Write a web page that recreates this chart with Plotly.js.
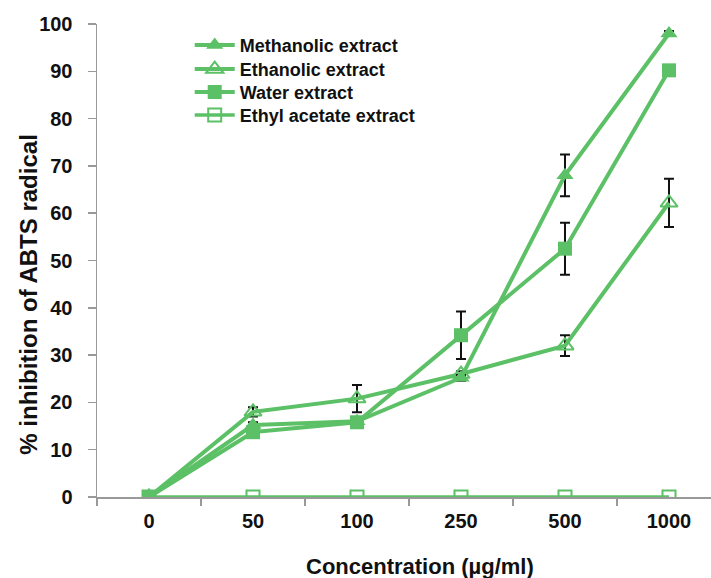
<!DOCTYPE html>
<html>
<head>
<meta charset="utf-8">
<script src="https://cdn.plot.ly/plotly-3.0.1.min.js"></script>
<style>html,body{margin:0;padding:0;background:#fff;}#chart{width:711px;height:578px;}</style>
</head>
<body>
<div id="chart"></div>
<script>
const categories = ["0", "50", "100", "250", "500", "1000"];
const methanolic = [0, 15.2, 16.0, 25.2, 68.0, 98.0];
const methanolicErr = [0, 0.6, 0.5, 0.6, 4.4, 0.5];
const ethanolic = [0, 18.0, 20.8, 26.0, 32.0, 62.2];
const ethanolicErr = [0, 1.0, 2.9, 0.6, 2.2, 5.1];
const water = [0, 13.7, 15.8, 34.2, 52.5, 90.2];
const waterErr = [0, 0.5, 0.5, 5.0, 5.5, 0.5];
const ethylAcetate = [0, 0, 0, 0, 0, 0];
const seriesNames = ["Methanolic extract", "Ethanolic extract", "Water extract", "Ethyl acetate extract"];
const xTitle = "Concentration (µg/ml)";
const yTitle = "% inhibition of ABTS radical";

const green = "rgb(92,192,102)";
const FONT = "Liberation Sans, Arial, sans-serif";
const errStyle = (arr) => ({type: "data", array: arr, visible: true, color: "#111", thickness: 2, width: 5});

const traces = [
  {x: categories, y: ethylAcetate, name: seriesNames[3], mode: "lines+markers", legend: "legend4",
   line: {color: green, width: 3.5},
   marker: {symbol: "square-open", size: 13, color: green, line: {width: 2, color: green}}},
  {x: categories, y: ethanolic, name: seriesNames[1], mode: "lines+markers", legend: "legend2",
   error_y: errStyle(ethanolicErr),
   line: {color: green, width: 4},
   marker: {symbol: "triangle-up-open", size: 15, color: green, line: {width: 2, color: green}}},
  {x: categories, y: methanolic, name: seriesNames[0], mode: "lines+markers", legend: "legend",
   error_y: errStyle(methanolicErr),
   line: {color: green, width: 4},
   marker: {symbol: "triangle-up", size: 15, color: green}},
  {x: categories, y: water, name: seriesNames[2], mode: "lines+markers", legend: "legend3",
   error_y: errStyle(waterErr),
   line: {color: green, width: 4},
   marker: {symbol: "square", size: 14, color: green}}
];

const legendBase = (y) => ({x: 0.151, y: y, xanchor: "left", yanchor: "top", bgcolor: "rgba(0,0,0,0)",
  font: {size: 18, family: FONT, weight: "bold", color: "#111"}, itemwidth: 40});

const layout = {
  width: 711, height: 578,
  margin: {l: 97, r: 0, t: 24, b: 81},
  paper_bgcolor: "#fff", plot_bgcolor: "#fff",
  font: {family: FONT, color: "#111"},
  showlegend: true,
  legend: legendBase(0.994),
  legend2: legendBase(0.9433),
  legend3: legendBase(0.8947),
  legend4: legendBase(0.8461),
  xaxis: {type: "category", range: [-0.5, 5.404], showline: true, linecolor: "#999", linewidth: 1.5,
          ticks: "outside", tickson: "boundaries", ticklen: 7, tickcolor: "#999", tickwidth: 1.5,
          showgrid: false, zeroline: false, ticklabelstandoff: 5,
          tickfont: {size: 20, family: FONT, weight: "bold"}},
  yaxis: {range: [0, 100], dtick: 10, showline: true, linecolor: "#999", linewidth: 1.5,
          ticks: "outside", ticklen: 8, tickcolor: "#999", tickwidth: 1.5,
          showgrid: false, zeroline: false, ticklabelstandoff: 11,
          tickfont: {size: 20, family: FONT, weight: "bold"}},
  annotations: [
    {text: xTitle, xref: "paper", yref: "paper", x: 0.526, y: -0.146, xanchor: "center", yanchor: "middle",
     showarrow: false, font: {size: 22, family: FONT, weight: "bold", color: "#111"}},
    {text: yTitle, xref: "paper", yref: "paper", x: -0.113, y: 0.427, xanchor: "center", yanchor: "middle",
     textangle: -90, showarrow: false, font: {size: 24, family: FONT, weight: "bold", color: "#111"}}
  ]
};

Plotly.newPlot("chart", traces, layout, {displayModeBar: false, staticPlot: true});
</script>
</body>
</html>
